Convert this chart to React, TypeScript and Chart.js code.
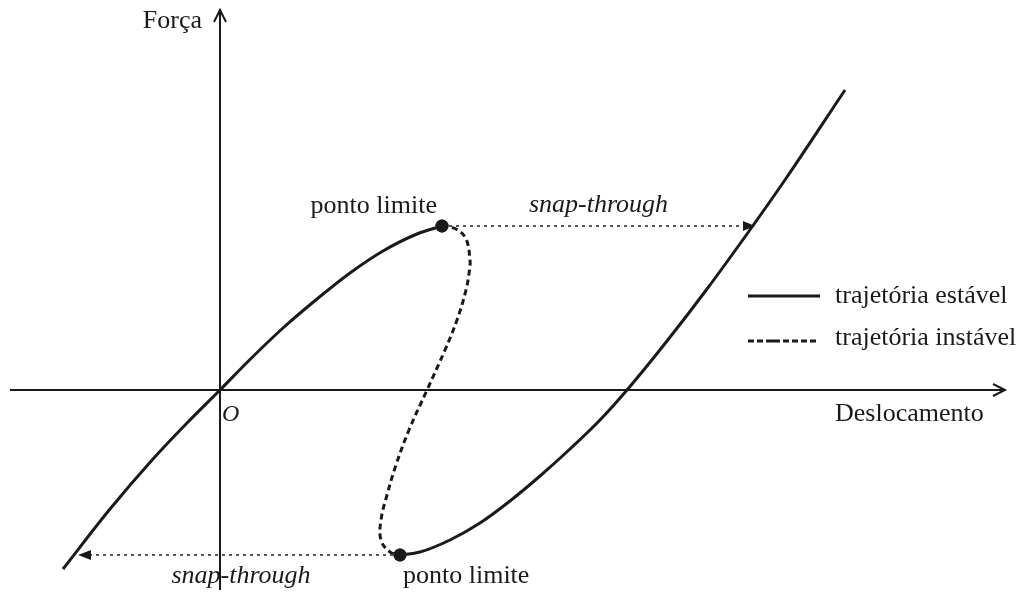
import React, { useEffect, useRef } from "react";
import { Chart, registerables } from "chart.js";

Chart.register(...registerables);

// ---- Data (arbitrary units: displacement on x, force on y) ----
const stableLeftX = [-15.7, -11, -6.7, -3.3, 0, 3, 6.3, 9.7, 13, 16.3, 19.7, 22.2];
const stableLeftY = [-17.9, -11.9, -6.9, -3.3, 0, 3.05, 6.2, 9.1, 11.7, 13.9, 15.6, 16.4];

const unstableX = [22.2, 23.6, 24.6, 25, 24.95, 24.6, 23.7, 22.5, 20.7, 18.9, 17.6, 16.7, 16.1, 16.1, 17, 18];
const unstableY = [16.4, 16.1, 15.1, 13, 12, 10, 7, 4, 0, -4, -7.5, -10.5, -13, -15, -16.2, -16.5];

const stableRightX = [18, 20, 23, 26, 29, 32, 35, 38, 40.7, 44.7, 48.7, 52.7, 56.7, 62.5];
const stableRightY = [-16.5, -16.2, -15, -13.3, -11.1, -8.6, -5.9, -3, 0, 4.9, 10.1, 15.6, 21.3, 30];

const limitX = [22.2, 18];
const limitY = [16.4, -16.5];

const snapUpperX = [22.2, 53.5];
const snapLowerX = [18, -14.2];

const xAxisRange = [-21, 78.5];
const yAxisRange = [-20, 38];

const labels = {
  force: "Força",
  displacement: "Deslocamento",
  origin: "O",
  limit: "ponto limite",
  snap: "snap-through",
  stable: "trajetória estável",
  unstable: "trajetória instável",
};

const zip = (xs: number[], ys: number[]) => xs.map((x, i) => ({ x, y: ys[i] }));

const INK = "#1a1a1a";
const SERIF = '"Liberation Serif", "Times New Roman", serif';

export default function App() {
  const ref = useRef<HTMLCanvasElement | null>(null);

  useEffect(() => {
    if (!ref.current) return;

    const annotate = {
      id: "annotate",
      afterDatasetsDraw(chart: any) {
        const ctx = chart.ctx as CanvasRenderingContext2D;
        const xs = chart.scales.x;
        const ys = chart.scales.y;
        const px = (v: number) => xs.getPixelForValue(v);
        const py = (v: number) => ys.getPixelForValue(v);

        ctx.save();
        // axis arrowheads (open V)
        ctx.strokeStyle = INK;
        ctx.lineWidth = 2;
        const xt = px(xAxisRange[1]);
        const y0 = py(0);
        ctx.beginPath();
        ctx.moveTo(xt - 12, y0 - 6);
        ctx.lineTo(xt, y0);
        ctx.lineTo(xt - 12, y0 + 6);
        ctx.stroke();
        const x0 = px(0);
        const yt = py(yAxisRange[1]);
        ctx.beginPath();
        ctx.moveTo(x0 - 6, yt + 12);
        ctx.lineTo(x0, yt);
        ctx.lineTo(x0 + 6, yt + 12);
        ctx.stroke();

        // snap-through arrowheads (filled)
        ctx.fillStyle = INK;
        const ua = px(snapUpperX[1]);
        const uy = py(limitY[0]);
        ctx.beginPath();
        ctx.moveTo(ua, uy);
        ctx.lineTo(ua - 12, uy - 5);
        ctx.lineTo(ua - 12, uy + 5);
        ctx.closePath();
        ctx.fill();
        const la = px(snapLowerX[1]);
        const ly = py(limitY[1]);
        ctx.beginPath();
        ctx.moveTo(la, ly);
        ctx.lineTo(la + 13, ly - 5);
        ctx.lineTo(la + 13, ly + 5);
        ctx.closePath();
        ctx.fill();

        // limit points
        limitX.forEach((lx, i) => {
          ctx.beginPath();
          ctx.arc(px(lx), py(limitY[i]), 6.5, 0, Math.PI * 2);
          ctx.fill();
        });

        // texts
        ctx.fillStyle = INK;
        ctx.textBaseline = "alphabetic";
        ctx.font = `26px ${SERIF}`;
        ctx.textAlign = "right";
        ctx.fillText(labels.force, x0 - 18, yt + 18);
        ctx.textAlign = "left";
        ctx.fillText(labels.displacement, 835, y0 + 31);
        ctx.textAlign = "right";
        ctx.fillText(labels.limit, px(limitX[0]) - 5, uy - 13);
        ctx.textAlign = "left";
        ctx.fillText(labels.limit, px(limitX[1]) + 3, ly + 28);

        ctx.font = `italic 26px ${SERIF}`;
        ctx.textAlign = "center";
        ctx.fillText(labels.snap, (px(snapUpperX[0]) + ua) / 2, uy - 14);
        ctx.fillText(labels.snap, 241, ly + 28);
        ctx.font = `italic 24px ${SERIF}`;
        ctx.textAlign = "left";
        ctx.fillText(labels.origin, x0 + 2, y0 + 31);

        // legend
        ctx.font = `26px ${SERIF}`;
        ctx.textAlign = "left";
        ctx.lineWidth = 3;
        ctx.strokeStyle = INK;
        ctx.setLineDash([]);
        ctx.beginPath();
        ctx.moveTo(748, 296);
        ctx.lineTo(820, 296);
        ctx.stroke();
        ctx.fillText(labels.stable, 835, 303);
        ctx.setLineDash([6, 3, 6, 3, 14, 3, 6, 3, 6, 3, 6, 3, 6]);
        ctx.beginPath();
        ctx.moveTo(748, 341);
        ctx.lineTo(820, 341);
        ctx.stroke();
        ctx.setLineDash([]);
        ctx.fillText(labels.unstable, 835, 345);
        ctx.restore();
      },
    };

    const chart = new Chart(ref.current, {
      type: "scatter",
      data: {
        datasets: [
          {
            label: "eixo x",
            data: zip(xAxisRange, [0, 0]),
            showLine: true,
            borderColor: INK,
            borderWidth: 2,
            pointRadius: 0,
          },
          {
            label: "eixo y",
            data: zip([0, 0], yAxisRange),
            showLine: true,
            borderColor: INK,
            borderWidth: 2,
            pointRadius: 0,
          },
          {
            label: "snap-through superior",
            data: zip(snapUpperX, [limitY[0], limitY[0]]),
            showLine: true,
            borderColor: "#555",
            borderWidth: 2,
            borderDash: [3, 4],
            pointRadius: 0,
          },
          {
            label: "snap-through inferior",
            data: zip(snapLowerX, [limitY[1], limitY[1]]),
            showLine: true,
            borderColor: "#555",
            borderWidth: 2,
            borderDash: [3, 4],
            pointRadius: 0,
          },
          {
            label: labels.stable,
            data: zip(stableLeftX, stableLeftY),
            showLine: true,
            borderColor: INK,
            borderWidth: 3,
            cubicInterpolationMode: "monotone",
            pointRadius: 0,
          },
          {
            label: labels.unstable,
            data: zip(unstableX, unstableY),
            showLine: true,
            borderColor: INK,
            borderWidth: 3,
            borderDash: [6, 4],
            tension: 0.4,
            pointRadius: 0,
          },
          {
            label: labels.stable + " 2",
            data: zip(stableRightX, stableRightY),
            showLine: true,
            borderColor: INK,
            borderWidth: 3,
            cubicInterpolationMode: "monotone",
            pointRadius: 0,
          },
          {
            label: labels.limit,
            data: zip(limitX, limitY),
            showLine: false,
            backgroundColor: INK,
            borderColor: INK,
            borderWidth: 0,
            pointRadius: 6.5,
          },
        ],
      },
      options: {
        animation: false,
        responsive: false,
        devicePixelRatio: 1,
        layout: { padding: 0, autoPadding: false },
        scales: {
          x: { type: "linear", min: -22, max: 81.2, display: false },
          y: { type: "linear", min: -20.6, max: 39, display: false },
        },
        plugins: {
          legend: { display: false },
          tooltip: { enabled: false },
        },
        events: [],
      },
      plugins: [annotate],
    });

    return () => chart.destroy();
  }, []);

  return (
    <div style={{ position: "absolute", left: 0, top: 0, width: 1032, height: 596, background: "#fff" }}>
      <canvas ref={ref} width={1032} height={596} />
    </div>
  );
}
